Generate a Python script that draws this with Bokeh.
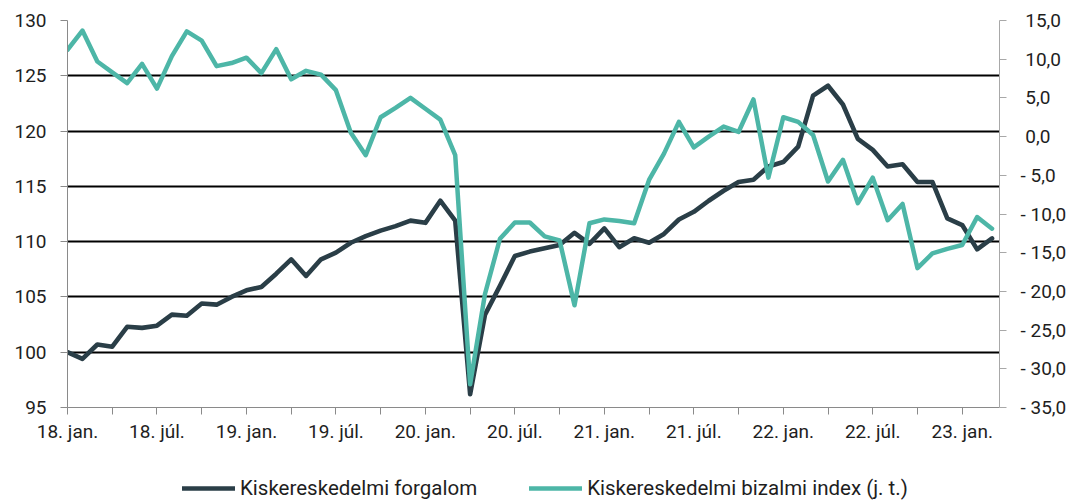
from bokeh.plotting import figure
from bokeh.models import Range1d, LinearAxis, FixedTicker, Legend, LegendItem
from bokeh.layouts import column
from bokeh.embed import file_html
from bokeh.resources import INLINE

# ---- data (monthly, 2018 Jan .. 2023 Mar) ----
retail_turnover = [
    100.0, 99.4, 100.7, 100.5, 102.3, 102.2, 102.4, 103.4, 103.3, 104.4, 104.3, 105.0,
    105.6, 105.9, 107.1, 108.4, 106.9, 108.4, 109.0, 109.9, 110.5, 111.0, 111.4, 111.9,
    111.7, 113.7, 111.9, 96.2, 103.4, 106.0, 108.7, 109.1, 109.4, 109.7, 110.8, 109.8,
    111.2, 109.5, 110.3, 109.9, 110.7, 112.0, 112.7, 113.7, 114.6, 115.4, 115.6, 116.8,
    117.2, 118.6, 123.2, 124.1, 122.4, 119.3, 118.3, 116.8, 117.0, 115.4, 115.4, 112.1,
    111.5, 109.3, 110.3,
]
retail_confidence = [
    11.2, 13.7, 9.7, 8.3, 6.9, 9.4, 6.2, 10.4, 13.6, 12.4, 9.1, 9.5,
    10.2, 8.2, 11.3, 7.4, 8.5, 8.0, 6.0, 0.5, -2.4, 2.5, 3.7, 5.0,
    3.6, 2.2, -2.4, -32.0, -20.3, -13.2, -11.1, -11.1, -12.9, -13.4, -21.8, -11.2,
    -10.7, -10.9, -11.2, -5.6, -2.2, 1.9, -1.4, 0.0, 1.3, 0.6, 4.8, -5.3,
    2.5, 1.9, 0.2, -5.8, -3.0, -8.6, -5.3, -10.8, -8.7, -17.0, -15.1, -14.5,
    -14.0, -10.4, -11.9,
]
x_tick_labels = ["18. jan.", "18. júl.", "19. jan.", "19. júl.", "20. jan.", "20. júl.",
                 "21. jan.", "21. júl.", "22. jan.", "22. júl.", "23. jan."]
left_ticks = [95, 100, 105, 110, 115, 120, 125, 130]
right_ticks = [-35, -30, -25, -20, -15, -10, -5, 0, 5, 10, 15]
series_names = ["Kiskereskedelmi forgalom", "Kiskereskedelmi bizalmi index (j. t.)"]

months = list(range(len(retail_turnover)))

DARK = "#2a3e47"
TEAL = "#4db6a7"
FONT = "Roboto"
TXT = "#1e1e1e"

W = 1082
p = figure(width=W, height=461, output_backend="svg", toolbar_location=None,
           x_range=Range1d(0, 62.5), y_range=Range1d(95, 130),
           min_border_left=67, min_border_right=83, min_border_top=20, min_border_bottom=54)
p.outline_line_color = None
p.extra_y_ranges = {"right": Range1d(-35, 15)}

# grid
p.xgrid.visible = False
p.ygrid.ticker = FixedTicker(ticks=left_ticks[1:])
p.ygrid.grid_line_color = "#000000"
p.ygrid.grid_line_width = 2.2

# x axis
xt = list(range(0, 61, 3))
overrides = {}
for i, t in enumerate(xt):
    overrides[t] = x_tick_labels[i // 2] if i % 2 == 0 else ""
p.xaxis.ticker = FixedTicker(ticks=xt)
p.xaxis.major_label_overrides = overrides

# left axis
p.yaxis.ticker = FixedTicker(ticks=left_ticks)

# right axis
def fmt(v):
    if v < 0:
        return "-\u00a0" + f"{abs(v):.1f}".replace(".", ",")
    return "\u00a0" + f"{v:.1f}".replace(".", ",")

ra = LinearAxis(y_range_name="right", ticker=FixedTicker(ticks=right_ticks),
                major_label_overrides={t: fmt(t) for t in right_ticks})
p.add_layout(ra, "right")

for ax in p.axis:
    ax.axis_line_color = "#8a8a8a"
    ax.major_tick_line_color = "#8a8a8a"
    ax.minor_tick_line_color = None
    ax.major_tick_out = 7
    ax.major_tick_in = 0
    ax.major_label_text_font = FONT
    ax.major_label_text_font_size = "19px"
    ax.major_label_text_color = TXT
    ax.major_label_standoff = 14
ra.axis_line_color = "#a8a8a8"
ra.major_tick_line_color = "#a8a8a8"
ra.major_label_standoff = 14
p.xaxis.major_label_standoff = 5

p.line(months, retail_turnover, line_color=DARK, line_width=4.6,
       line_join="round", line_cap="round")
p.line(months, retail_confidence, line_color=TEAL, line_width=4.5,
       line_join="round", line_cap="round", y_range_name="right")

# legend strip below the chart (series drawn off-range, only legend samples visible)
pl = figure(width=W, height=40, output_backend="svg", toolbar_location=None,
            x_range=Range1d(0, 62.5), y_range=Range1d(500, 501),
            min_border_left=0, min_border_right=0, min_border_top=0, min_border_bottom=0)
pl.outline_line_color = None
pl.axis.visible = False
pl.grid.visible = False
d1 = pl.line(months, retail_turnover, line_color=DARK, line_width=4.6, line_cap="round")
d2 = pl.line(months, retail_confidence, line_color=TEAL, line_width=4.5, line_cap="round")
legend = Legend(items=[LegendItem(label=series_names[0], renderers=[d1]),
                       LegendItem(label=series_names[1], renderers=[d2])],
                location=(115, 1), orientation="horizontal",
                glyph_width=53, glyph_height=20, label_standoff=5, spacing=52,
                padding=0, margin=0, border_line_color=None, background_fill_alpha=0,
                label_text_font=FONT, label_text_font_size="20.5px", label_text_color=TXT)
pl.add_layout(legend, "center")

open("out.html", "w").write(file_html(column(p, pl, spacing=0), INLINE))
